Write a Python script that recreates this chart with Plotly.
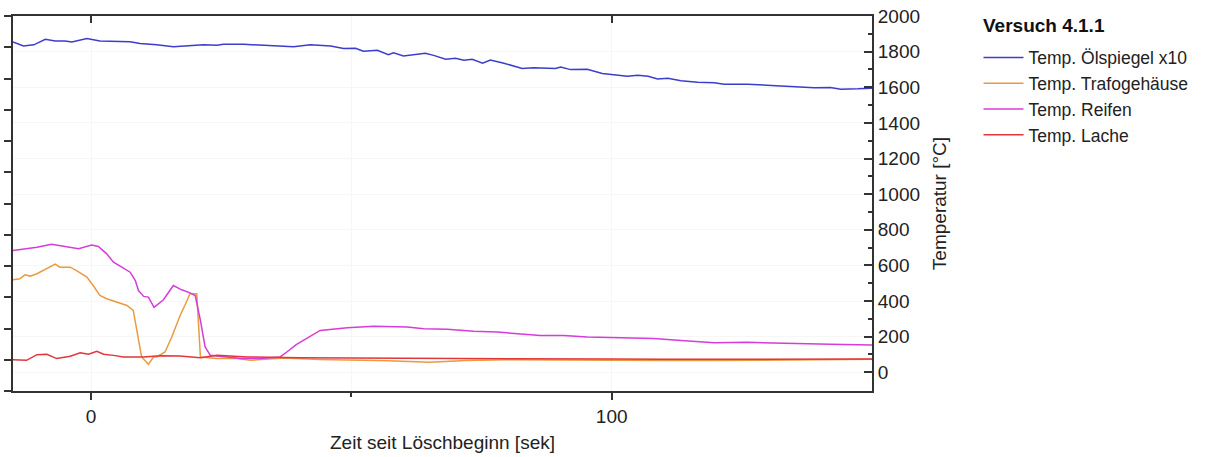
import plotly.graph_objects as go

# ---- data ----
t_oel = [-15, -13, -11, -8.8, -6.9, -5, -3.7, -0.8, 1.7, 4.9, 7.5, 9.4, 12.6, 15.8, 19, 21.6, 24.2, 25.4,
         29.3, 31.9, 34.4, 38.9, 42.1, 46, 48.5, 50.8, 52.3, 55, 57.1, 58.1, 60, 62, 64.2, 65.8, 68.1, 70,
         71.6, 73.2, 75.2, 76.7, 79.3, 82.8, 85, 89.2, 90.2, 92.1, 95.3, 98.2, 100.4, 103, 105, 107, 108.8,
         110.8, 113.3, 116.5, 119.7, 121.6, 126.1, 129.3, 132.5, 135.7, 138.9, 142, 144, 147.3, 150]
v_oel = [1854, 1832, 1838, 1869, 1860, 1860, 1854, 1873, 1860, 1860, 1856, 1845, 1839, 1828, 1832, 1838, 1836,
         1841, 1841, 1838, 1836, 1828, 1838, 1832, 1817, 1819, 1802, 1808, 1783, 1793, 1776, 1785, 1791, 1779,
         1757, 1763, 1752, 1757, 1735, 1753, 1735, 1705, 1709, 1705, 1714, 1699, 1701, 1677, 1669, 1662, 1668,
         1662, 1647, 1651, 1636, 1628, 1625, 1617, 1617, 1612, 1608, 1604, 1597, 1599, 1589, 1591, 1595]

t_trafo = [-15, -13.7, -12.7, -11.7, -10.4, -9.2, -7.6, -6.9, -6, -4, -2.8, -0.8, 0.4, 1.7, 3, 4.9, 6.9, 8.1,
           8.8, 9.7, 11, 12, 12.6, 14.2, 15.5, 17.1, 18, 19, 20.3, 21, 24.2, 28, 30.6, 37, 44, 50, 57, 65, 72,
           80, 90, 100, 110, 120, 130, 140, 150]
v_trafo = [519, 525, 547, 540, 553, 571, 599, 607, 590, 590, 571, 534, 487, 431, 413, 394, 375, 347,
           235, 86, 45, 86, 86, 114, 198, 319, 375, 441, 441, 86, 77, 77, 67, 80, 72, 70, 65, 56, 66,
           70, 68, 64, 66, 66, 68, 70, 73]

t_reifen = [-15, -12.4, -10.4, -7.6, -5, -2.4, 0.1, 1.4, 3, 4.3, 5.9, 7.5, 8.5, 9.1, 10.1, 11, 12.1, 13.9,
            15.8, 17.4, 19, 20, 21, 21.9, 22.9, 24.8, 28.7, 32.5, 36.3, 37.6, 39.4, 44, 49.2, 54.3, 60.7,
            63.9, 68.4, 73.5, 78, 86.3, 90.8, 95.3, 103.7, 108.1, 113.3, 119.7, 126, 132.5, 142, 150]
v_reifen = [683, 693, 702, 719, 706, 693, 715, 706, 665, 618, 590, 562, 515, 459, 426, 422, 364, 407,
            487, 463, 446, 431, 291, 142, 95, 90, 77, 77, 86, 114, 155, 235, 250, 259, 254,
            245, 241, 230, 226, 207, 207, 198, 193, 189, 179, 166, 168, 162, 157, 153]

t_lache = [-15, -12.4, -10.4, -8.5, -6.6, -4, -2.1, -0.5, 1.1, 2.4, 4.3, 6.2, 10.1, 13.3, 17, 21, 24.2, 30,
           40, 50, 60, 70, 80, 90, 100, 110, 120, 130, 140, 150]
v_lache = [71, 67, 99, 101, 77, 90, 110, 101, 118, 101, 95, 86, 86, 93, 91, 82, 95, 86,
           82, 80, 78, 76, 75, 74, 74, 73, 73, 74, 74, 74]

series_names = ["Temp. Ölspiegel x10", "Temp. Trafogehäuse", "Temp. Reifen", "Temp. Lache"]
series_colors = ["#3d3dcc", "#ec9a40", "#d63cd9", "#e2353c"]
x_tickvals = [0, 100]
y_range = [-105, 2000]
x_range = [-15, 150]

FONT = "Arial, 'Liberation Sans', sans-serif"
AX = "#333333"
GRID = "#f6f6f6"

fig = go.Figure()
for name, xs, ys, col in zip(series_names, [t_oel, t_trafo, t_reifen, t_lache],
                             [v_oel, v_trafo, v_reifen, v_lache], series_colors):
    fig.add_trace(go.Scatter(x=xs, y=ys, mode="lines", name=name,
                             line=dict(color=col, width=1.5)))

# empty helper traces so the mirrored top axis and the unlabeled left axis are drawn
fig.add_trace(go.Scatter(x=[None], y=[None], xaxis="x", yaxis="y2", showlegend=False, hoverinfo="skip"))
fig.add_trace(go.Scatter(x=[None], y=[None], xaxis="x2", yaxis="y", showlegend=False, hoverinfo="skip"))

fig.update_layout(
    width=1228, height=457,
    margin=dict(l=13, r=356, t=16, b=66, autoexpand=False),
    plot_bgcolor="white", paper_bgcolor="white",
    font=dict(family=FONT, size=19, color="#222222"),
    showlegend=True,
    legend=dict(
        x=1.124, y=0.937, xanchor="left", yanchor="top",
        font=dict(size=17.5, color="#222222"),
        bgcolor="rgba(0,0,0,0)", tracegroupgap=0, itemwidth=40,
    ),
    annotations=[dict(
        text="<b>Versuch 4.1.1</b>", xref="paper", yref="paper", x=1.1265, y=0.976,
        xanchor="left", yanchor="middle", showarrow=False,
        font=dict(size=19, color="#111111", family=FONT),
    )],
    xaxis=dict(
        range=x_range, tickvals=x_tickvals, ticks="outside", ticklen=7, tickwidth=2, tickcolor=AX,
        showline=True, linewidth=2, linecolor=AX, zeroline=False, automargin=False,
        showgrid=True, gridcolor=GRID,
        minor=dict(tickmode="array", tickvals=[50], ticks="outside", ticklen=4, tickwidth=2,
                   tickcolor=AX, showgrid=True, gridcolor=GRID),
        title=dict(text="Zeit seit Löschbeginn [sek]", standoff=10, font=dict(size=19)),
        tickfont=dict(size=19),
    ),
    xaxis2=dict(
        range=x_range, overlaying="x", side="top", anchor="y", tickvals=x_tickvals, ticks="inside",
        ticklen=7, tickwidth=2, tickcolor=AX, showticklabels=False, automargin=False,
        showline=True, linewidth=2, linecolor=AX, showgrid=False, zeroline=False,
    ),
    yaxis=dict(
        range=y_range, side="right", tick0=0, dtick=200, ticks="inside", ticklen=8, tickwidth=2,
        tickcolor=AX, showline=True, linewidth=2, linecolor=AX, zeroline=False, automargin=False,
        showgrid=True, gridcolor=GRID,
        minor=dict(dtick=100, tick0=0, ticks="inside", ticklen=4, tickwidth=2, tickcolor=AX, showgrid=False),
        title=dict(text="Temperatur [°C]", standoff=14, font=dict(size=19)),
        tickfont=dict(size=19),
    ),
    yaxis2=dict(
        range=[0, 12], overlaying="y", side="left", anchor="x", dtick=1, tick0=0, ticks="outside",
        ticklen=7, tickwidth=2, tickcolor=AX, showticklabels=False, showline=True, linewidth=2,
        linecolor=AX, showgrid=False, zeroline=False, automargin=False,
    ),
)

fig.write_html("out.html")
